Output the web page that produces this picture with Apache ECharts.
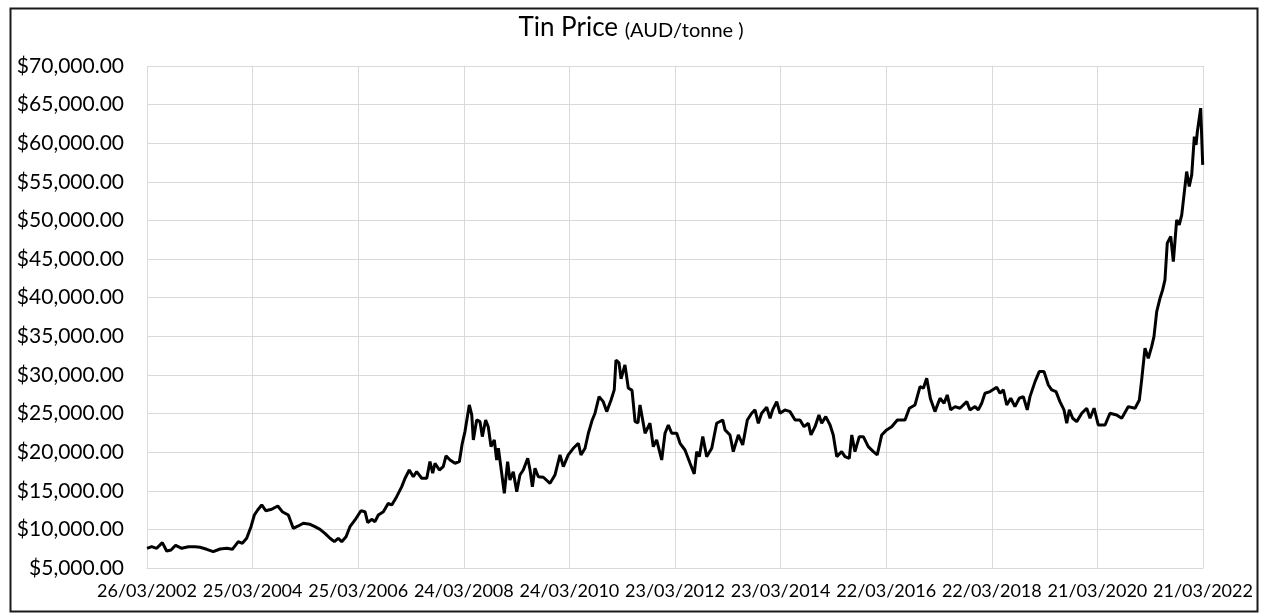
<!DOCTYPE html>
<html>
<head>
<meta charset="utf-8">
<script src="https://cdn.jsdelivr.net/npm/echarts@6/dist/echarts.min.js"></script>
<style>
html,body{margin:0;padding:0;background:#fff;}
#chart{width:1262px;height:613px;}
</style>
</head>
<body>
<div id="chart"></div>
<script>
// Days after 26/03/2002
const days = [0,32,67,106,136,166,198,240,286,332,366,413,458,505,551,590,631,659,689,719,742,765,793,821,862,904,935,977,1011,1046,1080,1127,1161,1196,1230,1265,1295,1322,1346,1376,1403,1438,1479,1507,1526,1553,1576,1599,1634,1668,1692,1726,1761,1784,1813,1841,1864,1899,1934,1956,1975,1991,2021,2048,2067,2095,2129,2159,2178,2198,2210,2228,2245,2256,2279,2302,2318,2341,2359,2378,2401,2417,2429,2452,2470,2493,2509,2532,2556,2578,2601,2632,2648,2664,2682,2705,2740,2786,2820,2855,2878,2912,2947,2982,3000,3028,3051,3078,3097,3125,3154,3178,3208,3230,3242,3263,3277,3304,3327,3353,3374,3394,3408,3443,3477,3500,3523,3558,3569,3581,3604,3627,3662,3685,3719,3754,3783,3800,3818,3842,3869,3904,3938,3980,3996,4030,4053,4088,4118,4150,4180,4203,4226,4249,4284,4307,4325,4353,4376,4410,4445,4480,4514,4542,4572,4590,4618,4645,4664,4692,4722,4744,4768,4802,4825,4855,4872,4894,4924,4952,4986,5021,5048,5079,5113,5148,5187,5240,5270,5309,5344,5367,5390,5416,5447,5482,5510,5532,5556,5586,5620,5667,5689,5724,5747,5770,5793,5828,5874,5897,5920,5943,5971,6000,6030,6058,6085,6104,6139,6168,6201,6231,6254,6284,6311,6339,6358,6376,6399,6427,6462,6496,6519,6547,6576,6623,6657,6703,6738,6784,6830,6860,6876,6899,6922,6945,6961,6980,7003,7021,7037,7053,7077,7095,7118,7136,7153,7187,7205,7222,7240,7252,7261,7284,7298];
const prices = [7550,7760,7550,8280,7200,7330,7940,7550,7760,7760,7680,7420,7110,7460,7550,7420,8410,8200,8850,10350,11860,12510,13160,12420,12600,13030,12290,11860,10140,10440,10790,10660,10350,10010,9490,8850,8410,8850,8410,9050,10350,11220,12420,12290,10870,11310,11000,11860,12290,13380,13160,14240,15530,16620,17690,16820,17470,16620,16620,18770,17270,18560,17690,18120,19510,18990,18560,18770,21000,22660,22450,26110,24820,21580,24170,23950,22010,24170,23300,20710,21580,18990,20500,17270,14680,18770,16400,17470,14880,17040,17690,19210,17690,15530,17910,16820,16750,15970,17040,19640,18120,19640,20500,21150,19640,20500,22450,24170,25040,27190,26540,25250,26760,28060,31930,31550,29500,31300,28300,28000,23950,23800,26110,22450,23740,20710,21580,18990,18770,22450,23520,22450,22450,21150,20280,18560,17180,20070,19420,22010,19420,20500,23740,24170,22880,22230,20070,22230,20930,24170,25040,25470,23740,25040,25820,24390,25470,26540,25040,25470,25250,24170,24170,23300,23740,22230,23300,24820,23740,24600,23520,22230,19420,20070,19420,19200,22230,20070,22010,22010,20710,20070,19640,22230,22880,23300,24170,24170,25690,26110,28480,28280,29570,26900,25250,26980,26330,27410,25470,25900,25690,26540,25470,25900,25470,26330,27630,27840,28400,27630,28060,26110,26980,25900,26980,27190,25470,27190,29130,30430,30430,28700,28060,27840,26540,25470,23740,25470,24390,23950,25040,25690,24390,25690,23520,23520,25040,24820,24390,25900,25690,26760,29350,33460,32160,33670,34960,38200,39930,41010,42300,47060,47920,44680,50080,49430,50720,56330,54390,55900,60870,59790,61520,64550,57200];
const baseDate = Date.UTC(2002, 2, 26);
const xMax = 7300, xStep = 730;
const yMin = 5000, yMax = 70000, yStep = 5000;

function dayLabel(d) {
  const dt = new Date(baseDate + d * 86400000);
  const dd = String(dt.getUTCDate()).padStart(2, '0');
  const mm = String(dt.getUTCMonth() + 1).padStart(2, '0');
  return dd + '/' + mm + '/' + dt.getUTCFullYear();
}
function money(v) {
  return '$' + v.toLocaleString('en-US', {minimumFractionDigits: 2, maximumFractionDigits: 2});
}

const chart = echarts.init(document.getElementById('chart'));
const FONT = 'Lato, "Open Sans", sans-serif';
chart.setOption({
  animation: false,
  backgroundColor: '#fff',
  graphic: [{
    type: 'rect', left: 8, top: 6, z: 100, silent: true,
    shape: {width: 1247, height: 603},
    style: {fill: 'none', stroke: '#1a1a1a', lineWidth: 2}
  }],
  title: {
    text: '{a|Tin Price }{b|(AUD/tonne )}',
    left: 'center', top: 10,
    textStyle: {
      fontWeight: 'normal',
      rich: {
        a: {fontSize: 26, fontFamily: FONT, fontWeight: 'normal', color: '#000'},
        b: {fontSize: 20, fontFamily: FONT, fontWeight: 'normal', color: '#000', verticalAlign: 'bottom', padding: [5, 0, 0, 0]}
      }
    }
  },
  grid: {left: 147, right: 59, top: 66, bottom: 45, containLabel: false},
  xAxis: {
    type: 'value', min: 0, max: xMax, interval: xStep,
    axisLine: {show: true, lineStyle: {color: '#d9d9d9', width: 1}},
    axisTick: {show: false},
    splitLine: {show: true, lineStyle: {color: '#d9d9d9', width: 1}},
    axisLabel: {
      formatter: dayLabel, fontSize: 18, fontFamily: FONT, color: '#000', margin: 14,
      showMinLabel: true, showMaxLabel: true, hideOverlap: false
    }
  },
  yAxis: {
    type: 'value', min: yMin, max: yMax, interval: yStep,
    axisLine: {show: false}, axisTick: {show: false},
    splitLine: {show: true, lineStyle: {color: '#d9d9d9', width: 1}},
    axisLabel: {formatter: money, fontSize: 21, fontFamily: FONT, color: '#000', margin: 23}
  },
  series: [{
    type: 'line',
    data: days.map((d, i) => [d, prices[i]]),
    showSymbol: false,
    lineStyle: {color: '#000', width: 3},
    itemStyle: {color: '#000'}
  }]
});
</script>
</body>
</html>
